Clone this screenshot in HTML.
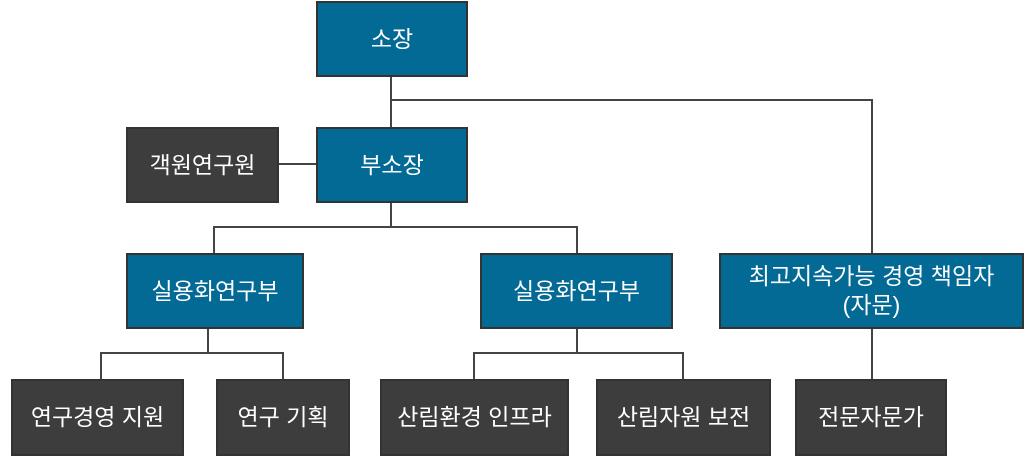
<!DOCTYPE html>
<html><head><meta charset="utf-8"><style>
body{margin:0;width:1024px;height:457px;background:#fff;position:relative;overflow:hidden;font-family:"Liberation Sans","Noto Sans CJK KR",sans-serif}
.b{position:absolute;box-sizing:border-box;border:2px solid #333;color:#fff;display:flex;align-items:center;justify-content:center;text-align:center;font-size:23px;line-height:29px}
.u{background:#036995}.g{background:#3d3d3d}
.l{position:absolute;background:#444}
</style></head><body>
<div class="l" style="left:390px;top:76px;width:2px;height:52px"></div>
<div class="l" style="left:390px;top:99px;width:483px;height:2px"></div>
<div class="l" style="left:871px;top:99px;width:2px;height:155px"></div>
<div class="l" style="left:278px;top:163px;width:40px;height:2px"></div>
<div class="l" style="left:390px;top:202px;width:2px;height:26px"></div>
<div class="l" style="left:213px;top:226px;width:365px;height:2px"></div>
<div class="l" style="left:213px;top:226px;width:2px;height:28px"></div>
<div class="l" style="left:576px;top:226px;width:2px;height:28px"></div>
<div class="l" style="left:207px;top:328px;width:2px;height:26px"></div>
<div class="l" style="left:100px;top:352px;width:184px;height:2px"></div>
<div class="l" style="left:100px;top:352px;width:2px;height:28px"></div>
<div class="l" style="left:282px;top:352px;width:2px;height:28px"></div>
<div class="l" style="left:576px;top:328px;width:2px;height:26px"></div>
<div class="l" style="left:473px;top:352px;width:211px;height:2px"></div>
<div class="l" style="left:473px;top:352px;width:2px;height:28px"></div>
<div class="l" style="left:682px;top:352px;width:2px;height:28px"></div>
<div class="l" style="left:871px;top:328px;width:2px;height:52px"></div>
<div class="b u" style="left:316px;top:1px;width:152px;height:76px">소장</div>
<div class="b u" style="left:316px;top:127px;width:152px;height:76px">부소장</div>
<div class="b g" style="left:126px;top:127px;width:153px;height:76px">객원연구원</div>
<div class="b u" style="left:126px;top:253px;width:178px;height:76px">실용화연구부</div>
<div class="b u" style="left:480px;top:253px;width:193px;height:76px">실용화연구부</div>
<div class="b u" style="left:719px;top:253px;width:305px;height:76px">최고지속가능 경영 책임자<br>(자문)</div>
<div class="b g" style="left:11px;top:379px;width:173px;height:77px">연구경영 지원</div>
<div class="b g" style="left:216px;top:379px;width:134px;height:77px">연구 기획</div>
<div class="b g" style="left:380px;top:379px;width:189px;height:77px">산림환경 인프라</div>
<div class="b g" style="left:596px;top:379px;width:175px;height:77px">산림자원 보전</div>
<div class="b g" style="left:795px;top:379px;width:152px;height:77px">전문자문가</div>
</body></html>
